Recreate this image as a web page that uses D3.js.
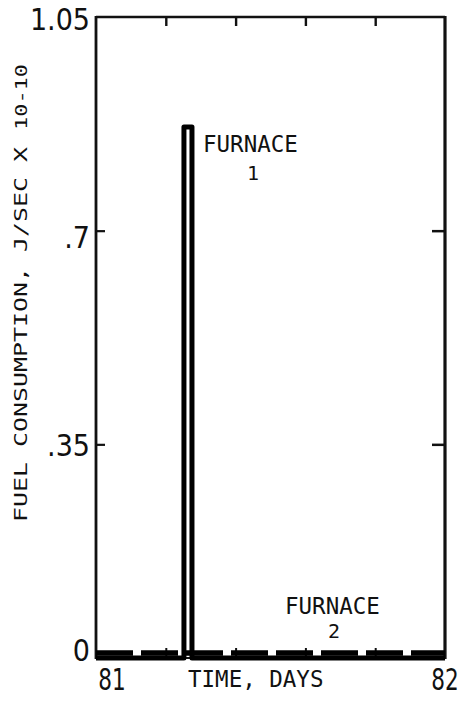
<!DOCTYPE html>
<html>
<head>
<meta charset="utf-8">
<script src="https://cdn.jsdelivr.net/npm/d3@7"></script>
<style>
  html, body { margin: 0; padding: 0; background: #fff; }
  svg { display: block; }
  .num { font-family: "DejaVu Sans Condensed", "Liberation Sans Narrow", sans-serif; font-size: 30px; fill: #111; }
  .mono { font-family: "DejaVu Sans Mono", "Liberation Mono", monospace; fill: #111; }
</style>
</head>
<body>
<script>
// Fuel consumption of two furnaces over one day (J/sec x 10^-10)
const xDomain = [81, 82];
const yDomain = [0, 1.05];

const xTickDays = [81.2, 81.4, 81.6, 81.8];
const xLabelDays = [81, 82];
const xLabels = ["81", "82"];
const yTickValues = [0.35, 0.7];
const yLabelValues = [0, 0.35, 0.7, 1.05];
const yLabels = ["0", ".35", ".7", "1.05"];

// Furnace 1: a short firing pulse, otherwise off
const furnace1Days = [81, 81.252, 81.252, 81.275, 81.275, 82];
const furnace1Fuel = [0, 0, 0.87, 0.87, 0, 0];

// Furnace 2: stays essentially off all day
const furnace2Days = [81, 82];
const furnace2Fuel = [0.008, 0.008];

const W = 462, H = 701;
const plot = { left: 96, right: 445, top: 17, bottom: 658 };

const svg = d3.select("body").append("svg")
  .attr("width", W).attr("height", H);
svg.append("rect").attr("width", W).attr("height", H).attr("fill", "#fff");

const x = d3.scaleLinear().domain(xDomain).range([plot.left, plot.right]);
const y = d3.scaleLinear().domain(yDomain).range([plot.bottom, plot.top]);

// Inward tick marks on all four sides
function tickAxis(axis, tx, ty, size, width) {
  const g = svg.append("g")
    .attr("transform", `translate(${tx},${ty})`)
    .call(axis.tickSize(size).tickSizeOuter(0).tickFormat(""));
  g.select(".domain").remove();
  g.selectAll(".tick line").attr("stroke", "#111").attr("stroke-width", width);
  return g;
}
tickAxis(d3.axisTop(x).tickValues(xTickDays), 0, plot.top, -9, 2.4);
tickAxis(d3.axisBottom(x).tickValues(xTickDays), 0, plot.bottom, -10, 2);
tickAxis(d3.axisLeft(y).tickValues(yTickValues), plot.left, 0, -9, 2.2);
tickAxis(d3.axisRight(y).tickValues(yTickValues), plot.right, 0, -13, 2.5);

// Frame
const frame = svg.append("g").attr("stroke", "#111").attr("fill", "none");
frame.append("line").attr("x1", plot.left).attr("x2", plot.right)
  .attr("y1", plot.top).attr("y2", plot.top).attr("stroke-width", 2.4);
frame.append("line").attr("x1", plot.left).attr("x2", plot.right)
  .attr("y1", plot.bottom).attr("y2", plot.bottom).attr("stroke-width", 2.2);
frame.append("line").attr("x1", plot.left).attr("x2", plot.left)
  .attr("y1", plot.top - 1).attr("y2", plot.bottom + 1).attr("stroke-width", 2.8);
frame.append("line").attr("x1", plot.right).attr("x2", plot.right)
  .attr("y1", plot.top - 1).attr("y2", plot.bottom + 1).attr("stroke-width", 3.2);

// Series lines
const line = d3.line().x(d => x(d[0])).y(d => y(d[1]));
const f1 = furnace1Days.map((d, i) => [d, furnace1Fuel[i]]);
const f2 = furnace2Days.map((d, i) => [d, furnace2Fuel[i]]);

svg.append("path").datum(f1)
  .attr("d", line)
  .attr("fill", "none").attr("stroke", "#000")
  .attr("stroke-width", 5)
  .attr("stroke-linejoin", "round");

svg.append("path").datum(f2)
  .attr("d", line)
  .attr("fill", "none").attr("stroke", "#000")
  .attr("stroke-width", 5.5)
  .attr("stroke-dasharray", "37,8");

// Y tick labels
const yNudge = [-8, 1, 7, 2];
svg.append("g").selectAll("text")
  .data(yLabelValues)
  .join("text")
  .attr("class", "num")
  .attr("x", plot.left - 6)
  .attr("y", (d, i) => y(d) + yNudge[i])
  .attr("text-anchor", "end")
  .attr("dominant-baseline", "central")
  .text((d, i) => yLabels[i]);

// X tick labels (narrow digits)
const xNudge = [16, 0];
svg.append("g").selectAll("text")
  .data(xLabelDays)
  .join("text")
  .attr("class", "num")
  .attr("transform", (d, i) => `translate(${x(d) + xNudge[i]},690) scale(0.8,1)`)
  .attr("text-anchor", "middle")
  .text((d, i) => xLabels[i]);

// Axis titles
svg.append("text").attr("class", "mono")
  .attr("x", 188).attr("y", 687)
  .attr("font-size", 22.5)
  .attr("font-weight", 500)
  .text("TIME, DAYS");

svg.append("text").attr("class", "mono")
  .attr("transform", "translate(27,522) rotate(-90)")
  .attr("font-size", 18)
  .attr("textLength", 375)
  .attr("lengthAdjust", "spacingAndGlyphs")
  .text("FUEL CONSUMPTION, J/SEC X");

svg.append("text").attr("class", "mono")
  .attr("transform", "translate(27,130) rotate(-90)")
  .attr("font-size", 16)
  .attr("textLength", 66)
  .attr("lengthAdjust", "spacingAndGlyphs")
  .text("10-10");

// Series labels
function seriesLabel(xName, yName, xNum, yNum, num) {
  svg.append("text").attr("class", "mono")
    .attr("x", xName).attr("y", yName)
    .attr("font-size", 22.5)
    .text("FURNACE");
  svg.append("text").attr("class", "mono")
    .attr("x", xNum).attr("y", yNum)
    .attr("font-size", 20)
    .attr("text-anchor", "middle")
    .text(num);
}
seriesLabel(203, 152, 253, 180, "1");
seriesLabel(285, 614, 334, 638, "2");
</script>
</body>
</html>
